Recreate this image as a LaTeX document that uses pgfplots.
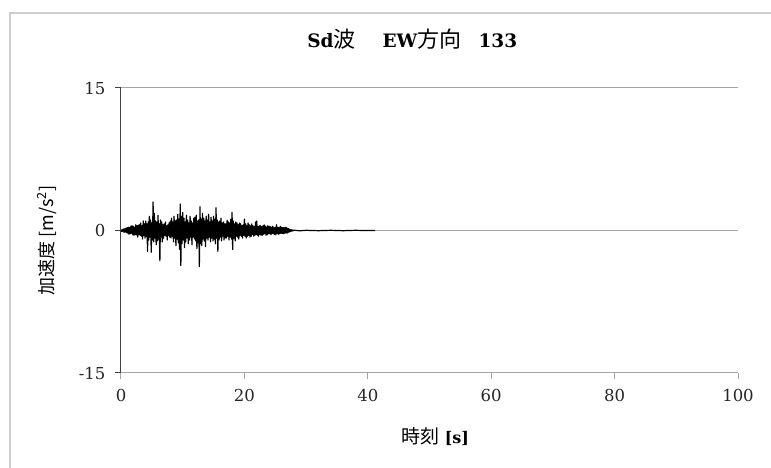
\documentclass[border=0pt]{standalone}
\usepackage{pgfplots}
\pgfplotsset{compat=1.18}
\usepackage{fontspec}
\newfontfamily\cjk{Noto Sans CJK JP}
\newfontfamily\serifnum{DejaVu Serif}
\definecolor{gridgray}{RGB}{165,165,165}
\definecolor{framegray}{RGB}{205,205,205}
\begin{document}
\begin{tikzpicture}[x=1pt,y=1pt]
\useasboundingbox (0,0) rectangle (771,468);
\fill[white] (0,0) rectangle (771,468);
\draw[framegray, line width=1.5pt] (10,455) rectangle (790,-20);
\begin{axis}[
  at={(121pt,95pt)}, anchor=south west,
  scale only axis, width=617pt, height=285pt,
  xmin=0, xmax=100, ymin=-15, ymax=15,
  xtick={0,20,40,60,80,100}, ytick={-15,0,15},
  axis lines*=left,
  x axis line style={gridgray, line width=1pt},
  y axis line style={black!75, line width=1pt},
  ymajorgrids, grid style={gridgray, line width=1pt},
  tick align=outside, major tick length=6pt,
  x tick style={gridgray, line width=1pt},
  y tick style={black!75, line width=1pt},
  /pgf/number format/assume math mode=true,
  tick label style={font=\serifnum\fontsize{16.5}{16.5}\selectfont, text=black!85},
  xticklabel style={yshift=-7pt},
  yticklabel style={xshift=-6pt},
  title={\serifnum\bfseries Sd{\mdseries\cjk\fontsize{22}{22}\selectfont 波}\hspace{27pt}EW{\mdseries\cjk\fontsize{22}{22}\selectfont 方向}\hspace{17pt}133},
  title style={at={(axis description cs:0.472,1)}, anchor=center, yshift=43pt, font=\fontsize{18.5}{18.5}\selectfont},
  xlabel={{\cjk 時刻} {\serifnum\bfseries\fontsize{16}{16}\selectfont [s]}},
  xlabel style={at={(axis description cs:0.509,0)}, anchor=center, yshift=-64pt, font=\fontsize{19}{19}\selectfont},
  ylabel={\cjk 加速度 [m/s\textsuperscript{2}]},
  ylabel style={at={(axis description cs:0,0.465)}, anchor=center, yshift=74pt, font=\fontsize{18}{18}\selectfont},
]
\addplot[black, line width=1.2pt, line join=round] coordinates {
(0.0,0.05)(0.1,-0.1)(0.2,0.12)(0.3,-0.08)(0.4,0.15)(0.5,-0.2)(0.6,0.18)(0.7,-0.15)(0.8,0.25)(0.9,-0.22)
(1.0,0.3)(1.1,-0.28)(1.2,0.35)(1.3,-0.4)(1.4,0.3)(1.5,-0.35)(1.6,0.45)(1.7,-0.3)(1.8,0.5)(1.9,-0.45)
(2.0,0.45)(2.1,-0.5)(2.2,0.35)(2.3,-0.45)(2.4,0.6)(2.5,-0.45)(2.6,0.5)(2.7,-0.7)(2.8,0.55)(2.9,-0.45)
(3.0,0.6)(3.1,-0.5)(3.2,0.8)(3.3,-0.6)(3.4,0.5)(3.5,-0.9)(3.6,1.0)(3.7,-0.5)(3.8,0.7)(3.9,-0.8)
(4.0,1.0)(4.1,-0.6)(4.2,0.7)(4.3,-2.2)(4.4,0.9)(4.5,-1.0)(4.6,1.5)(4.7,-0.7)(4.8,1.1)(4.9,-2.3)
(5.0,0.8)(5.1,-1.0)(5.2,3.0)(5.3,-1.2)(5.4,1.8)(5.5,-0.8)(5.6,1.0)(5.7,-1.5)(5.8,0.9)(5.9,-1.1)
(6.0,1.6)(6.1,-0.9)(6.2,0.7)(6.3,-3.2)(6.4,1.1)(6.5,-0.7)(6.6,0.9)(6.7,-1.2)(6.8,0.6)(6.9,-0.8)
(7.0,0.7)(7.1,-0.5)(7.2,0.9)(7.3,-0.6)(7.4,0.5)(7.5,-1.0)(7.6,0.6)(7.7,-0.5)(7.8,0.8)(7.9,-0.7)
(8.0,1.0)(8.1,-0.8)(8.2,1.3)(8.3,-0.6)(8.4,0.9)(8.5,-1.2)(8.6,1.5)(8.7,-0.8)(8.8,1.0)(8.9,-1.6)
(9.0,1.1)(9.1,-0.9)(9.2,1.7)(9.3,-1.3)(9.4,1.2)(9.5,-2.0)(9.6,2.8)(9.7,-3.7)(9.8,1.5)(9.9,-1.4)
(10.0,1.9)(10.1,-1.0)(10.2,1.3)(10.3,-1.8)(10.4,0.9)(10.5,-1.2)(10.6,1.6)(10.7,-0.8)(10.8,1.1)(10.9,-1.4)
(11.0,0.8)(11.1,-1.0)(11.2,1.5)(11.3,-0.7)(11.4,1.0)(11.5,-1.5)(11.6,0.8)(11.7,-0.7)(11.8,1.3)(11.9,-0.9)
(12.0,1.4)(12.1,-1.1)(12.2,1.6)(12.3,-1.9)(12.4,1.0)(12.5,-1.3)(12.6,1.1)(12.7,-3.8)(12.8,2.5)(12.9,-1.4)
(13.0,1.2)(13.1,-1.6)(13.2,1.8)(13.3,-0.9)(13.4,1.3)(13.5,-1.1)(13.6,1.0)(13.7,-1.7)(13.8,1.5)(13.9,-0.8)
(14.0,1.1)(14.1,-1.0)(14.2,1.7)(14.3,-0.7)(14.4,0.9)(14.5,-1.2)(14.6,1.4)(14.7,-0.8)(14.8,1.0)(14.9,-1.1)
(15.0,1.5)(15.1,-0.9)(15.2,1.2)(15.3,-1.4)(15.4,2.4)(15.5,-0.8)(15.6,1.1)(15.7,-2.2)(15.8,0.9)(15.9,-1.0)
(16.0,1.0)(16.1,-0.7)(16.2,1.3)(16.3,-1.1)(16.4,0.8)(16.5,-0.6)(16.6,0.9)(16.7,-1.0)(16.8,0.7)(16.9,-0.8)
(17.0,0.7)(17.1,-0.8)(17.2,1.1)(17.3,-0.6)(17.4,0.9)(17.5,-1.0)(17.6,0.8)(17.7,-0.7)(17.8,1.2)(17.9,-0.9)
(18.0,1.9)(18.1,-2.0)(18.2,1.0)(18.3,-0.8)(18.4,0.7)(18.5,-1.1)(18.6,0.9)(18.7,-0.6)(18.8,0.8)(18.9,-0.7)
(19.0,0.6)(19.1,-0.9)(19.2,0.8)(19.3,-0.5)(19.4,0.7)(19.5,-0.6)(19.6,0.5)(19.7,-0.8)(19.8,0.6)(19.9,-0.5)
(20.0,1.2)(20.1,-0.6)(20.2,0.7)(20.3,-0.8)(20.4,0.5)(20.5,-0.6)(20.6,0.8)(20.7,-0.5)(20.8,0.6)(20.9,-0.7)
(21.0,0.5)(21.1,-0.6)(21.2,0.7)(21.3,-0.4)(21.4,0.5)(21.5,-0.6)(21.6,0.4)(21.7,-0.5)(21.8,0.9)(21.9,-0.4)
(22.0,1.0)(22.1,-0.5)(22.2,0.4)(22.3,-0.6)(22.4,0.5)(22.5,-0.4)(22.6,0.5)(22.7,-0.5)(22.8,0.4)(22.9,-0.5)
(23.0,0.5)(23.1,-0.4)(23.2,0.6)(23.3,-0.35)(23.4,0.45)(23.5,-0.5)(23.6,0.35)(23.7,-0.45)(23.8,0.5)(23.9,-0.35)
(24.0,0.45)(24.1,-0.35)(24.2,0.4)(24.3,-0.45)(24.4,0.35)(24.5,-0.3)(24.6,0.45)(24.7,-0.35)(24.8,0.3)(24.9,-0.4)
(25.0,0.35)(25.1,-0.45)(25.2,0.6)(25.3,-0.3)(25.4,0.35)(25.5,-0.4)(25.6,0.3)(25.7,-0.35)(25.8,0.45)(25.9,-0.3)
(26.0,0.35)(26.1,-0.3)(26.2,0.3)(26.3,-0.35)(26.4,0.3)(26.5,-0.3)(26.6,0.35)(26.7,-0.25)(26.8,0.3)(26.9,-0.3)
(27.0,0.25)(27.1,-0.2)(27.2,0.18)(27.3,-0.15)(27.4,0.12)(27.5,-0.1)(27.6,0.08)(27.7,-0.06)(27.8,0.05)(27.9,-0.04)
(28.0,0.03)(29.0,-0.03)(30.0,0.02)(32.0,-0.02)(34.0,0.02)(36.0,-0.02)(38.0,0.02)(40.0,-0.01)(41.2,0)
};
\end{axis}
\end{tikzpicture}
\end{document}
